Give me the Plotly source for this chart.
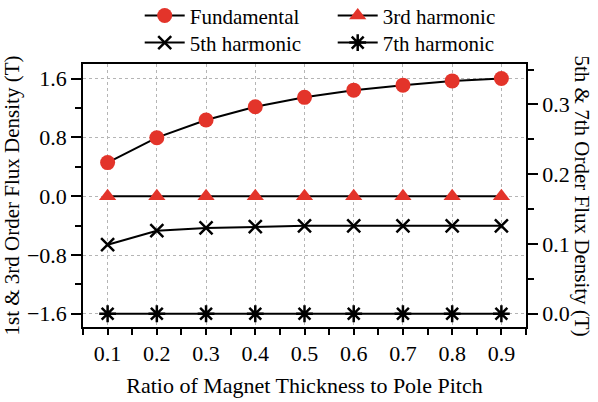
import plotly.graph_objects as go

ratio = [0.1, 0.2, 0.3, 0.4, 0.5, 0.6, 0.7, 0.8, 0.9]
fundamental = [0.458, 0.797, 1.037, 1.218, 1.346, 1.444, 1.512, 1.570, 1.603]
third = [0.0, 0.0, 0.0, 0.0, 0.0, 0.0, 0.0, 0.0, 0.0]
fifth = [0.099, 0.119, 0.123, 0.125, 0.126, 0.126, 0.126, 0.126, 0.126]
seventh = [0.0, 0.0, 0.0, 0.0, 0.0, 0.0, 0.0, 0.0, 0.0]

RED = "#E3342A"
FONT = "Liberation Serif"

fig = go.Figure()
fig.add_trace(go.Scatter(x=ratio, y=fundamental, name="Fundamental", mode="lines+markers",
                         line=dict(color="black", width=2),
                         marker=dict(symbol="circle", size=15, color=RED),
                         legend="legend"))
fig.add_trace(go.Scatter(x=ratio, y=third, name="3rd harmonic", mode="lines+markers",
                         line=dict(color="black", width=2),
                         marker=dict(symbol="triangle-up", size=15, color=RED),
                         legend="legend"))
fig.add_trace(go.Scatter(x=ratio, y=fifth, name="5th harmonic", mode="lines+markers",
                         line=dict(color="black", width=2), yaxis="y2",
                         marker=dict(symbol="x-thin-open", size=13, color="black",
                                     line=dict(color="black", width=2.5)),
                         legend="legend2"))
fig.add_trace(go.Scatter(x=ratio, y=seventh, name="7th harmonic", mode="lines+markers",
                         line=dict(color="black", width=2), yaxis="y2",
                         marker=dict(symbol="asterisk-open", size=14, color="black",
                                     line=dict(color="black", width=2.5)),
                         legend="legend2"))

TICKSIZE = 22
axis_common = dict(showline=True, linecolor="black", linewidth=1.5, ticks="outside",
                   tickcolor="black", tickwidth=1.5, zeroline=False,
                   tickfont=dict(family=FONT, size=TICKSIZE, color="black"))

fig.update_layout(
    width=598, height=402,
    margin=dict(l=83, r=72, t=64, b=75, autoexpand=False),
    paper_bgcolor="white", plot_bgcolor="white",
    font=dict(family=FONT, size=21, color="black"),
    showlegend=True,
    xaxis=dict(**axis_common, range=[0.05, 0.95], tick0=0.1, dtick=0.1, ticklen=6,
               tickformat=".1f", mirror=True,
               showgrid=True, gridcolor="#b5b5b5", griddash="dot", gridwidth=1,
               minor=dict(dtick=0.05, tick0=0.05, ticklen=6, tickcolor="black", tickwidth=1.5, showgrid=False),
               title=dict(text="Ratio of Magnet Thickness to Pole Pitch",
                          font=dict(family=FONT, size=22), standoff=12)),
    yaxis=dict(**axis_common, range=[-1.78, 1.80], tick0=0, dtick=0.8, ticklen=10,
               tickformat=".1f",
               showgrid=True, gridcolor="#b5b5b5", griddash="dot", gridwidth=1,
               minor=dict(dtick=0.4, tick0=0, ticklen=6, tickcolor="black", tickwidth=1.5, showgrid=False),
               title=dict(text="1st & 3rd Order Flux Density (T)",
                          font=dict(family=FONT, size=21), standoff=4)),
    yaxis2=dict(**axis_common, overlaying="y", side="right", range=[-0.019, 0.358],
                tick0=0, dtick=0.1, ticklen=10, tickformat=".1f", showgrid=False,
                minor=dict(dtick=0.05, tick0=0, ticklen=6, tickcolor="black", tickwidth=1.5, showgrid=False)),
    legend=dict(orientation="h", x=0.128, y=1.183, xanchor="left", yanchor="middle",
                entrywidth=138, entrywidthmode="pixels", bgcolor="rgba(0,0,0,0)",
                font=dict(family=FONT, size=21), tracegroupgap=0, itemwidth=40),
    legend2=dict(orientation="h", x=0.128, y=1.08, xanchor="left", yanchor="middle",
                 entrywidth=138, entrywidthmode="pixels", bgcolor="rgba(0,0,0,0)",
                 font=dict(family=FONT, size=21), tracegroupgap=0, itemwidth=40),
    annotations=[dict(text="5th & 7th Order Flux Density (T)", textangle=90,
                      xref="paper", yref="paper", x=1.0, xshift=56, y=0.5,
                      xanchor="center", yanchor="middle", showarrow=False,
                      font=dict(family=FONT, size=21, color="black"))],
)

fig.write_html("out.html")
